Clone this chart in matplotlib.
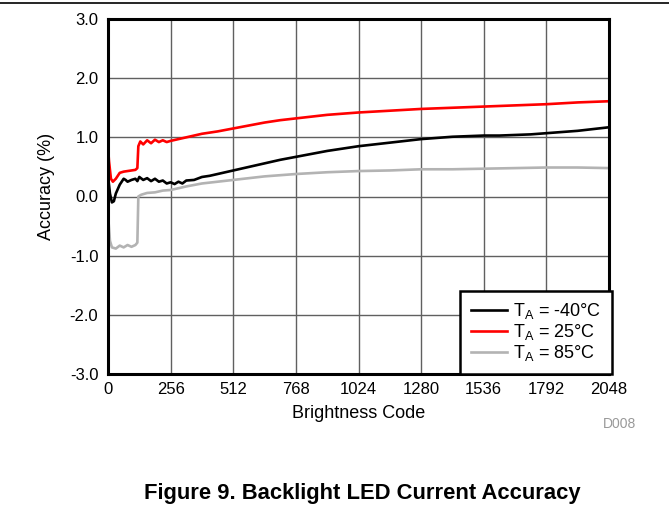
import matplotlib
matplotlib.use('Agg')
import matplotlib.pyplot as plt
from matplotlib.lines import Line2D

plt.rcParams['font.family'] = ['Liberation Sans', 'DejaVu Sans']

# Brightness code / accuracy (%)
codes_cold = [0, 8, 16, 24, 32, 48, 64, 72, 80, 96, 112, 120, 128, 144, 160, 176, 192,
              208, 224, 240, 256, 272, 288, 304, 320, 352, 384, 416, 448, 512, 576, 640,
              704, 768, 832, 896, 960, 1024, 1088, 1152, 1216, 1280, 1344, 1408, 1472,
              1536, 1600, 1664, 1728, 1792, 1856, 1920, 1984, 2048]
acc_cold = [0.35, 0.05, -0.1, -0.08, 0.05, 0.2, 0.3, 0.28, 0.25, 0.28, 0.3, 0.26, 0.33,
            0.28, 0.31, 0.26, 0.3, 0.25, 0.27, 0.22, 0.24, 0.21, 0.25, 0.22, 0.27, 0.28,
            0.33, 0.35, 0.38, 0.44, 0.5, 0.56, 0.62, 0.67, 0.72, 0.77, 0.81, 0.85, 0.88,
            0.91, 0.94, 0.97, 0.99, 1.01, 1.02, 1.03, 1.03, 1.04, 1.05, 1.07, 1.09, 1.11,
            1.14, 1.17]

codes_room = [0, 4, 12, 20, 32, 48, 64, 80, 96, 112, 120, 124, 132, 144, 160, 176, 192,
              208, 224, 240, 256, 288, 320, 352, 384, 448, 512, 576, 640, 704, 768, 832,
              896, 960, 1024, 1152, 1280, 1408, 1536, 1664, 1792, 1920, 2048]
acc_room = [0.85, 0.6, 0.3, 0.25, 0.3, 0.4, 0.42, 0.43, 0.44, 0.45, 0.48, 0.85, 0.93,
            0.88, 0.95, 0.9, 0.96, 0.92, 0.95, 0.92, 0.94, 0.97, 1.0, 1.03, 1.06, 1.1,
            1.15, 1.2, 1.25, 1.29, 1.32, 1.35, 1.38, 1.4, 1.42, 1.45, 1.48, 1.5, 1.52,
            1.54, 1.56, 1.59, 1.61]

codes_hot = [0, 8, 16, 32, 48, 64, 80, 96, 112, 120, 124, 136, 160, 192, 224, 256, 320,
             384, 448, 512, 576, 640, 704, 768, 896, 1024, 1152, 1280, 1408, 1536, 1664,
             1792, 1920, 2048]
acc_hot = [-0.3, -0.75, -0.86, -0.88, -0.83, -0.86, -0.82, -0.85, -0.82, -0.78, 0.0,
           0.03, 0.06, 0.07, 0.1, 0.11, 0.17, 0.22, 0.25, 0.28, 0.31, 0.34, 0.36, 0.38,
           0.41, 0.43, 0.44, 0.46, 0.46, 0.47, 0.48, 0.49, 0.49, 0.48]

x_ticks = [0, 256, 512, 768, 1024, 1280, 1536, 1792, 2048]
y_ticks = [-3.0, -2.0, -1.0, 0.0, 1.0, 2.0, 3.0]
labels = ['T$_\\mathregular{A}$ = -40°C', 'T$_\\mathregular{A}$ = 25°C',
          'T$_\\mathregular{A}$ = 85°C']

fig = plt.figure(figsize=(6.69, 5.14), dpi=100)
ax = fig.add_axes([108 / 669, 1 - 374 / 514, 501 / 669, 355 / 514])

ax.plot(codes_cold, acc_cold, color='black', lw=1.9, label=labels[0])
ax.plot(codes_room, acc_room, color='#ff0000', lw=1.9, label=labels[1])
ax.plot(codes_hot, acc_hot, color='#b3b3b3', lw=1.9, label=labels[2])

ax.set_xlim(0, 2048)
ax.set_ylim(-3, 3)
ax.set_xticks(x_ticks)
ax.set_yticks(y_ticks)
ax.set_yticklabels(['%.1f' % v for v in y_ticks])
ax.tick_params(length=0, labelsize=12)
ax.tick_params(axis='y', pad=7)
ax.tick_params(axis='x', pad=6)
ax.grid(True, color='#606060', lw=1.0)
for s in ax.spines.values():
    s.set_linewidth(2.2)
    s.set_color('black')
ax.set_xlabel('Brightness Code', fontsize=13)
ax.set_ylabel('Accuracy (%)', fontsize=13)
ax.xaxis.set_label_coords(0.5, -0.11)
ax.xaxis.label.set_va('center')
ax.yaxis.set_label_coords(-0.122, 0.528)
ax.yaxis.label.set_va('center')

leg = ax.legend(loc='lower right', bbox_to_anchor=(1.005, 0.0), fontsize=13, frameon=True,
                fancybox=False, borderaxespad=0.0, handlelength=2.0, labelspacing=0.05,
                borderpad=0.6, handletextpad=0.3, framealpha=1)
leg.get_frame().set_edgecolor('black')
leg.get_frame().set_linewidth(1.8)

fig.text(620 / 669, 1 - 424 / 514, 'D008', fontsize=10, color='#999999', ha='center', va='center')
fig.text(362 / 669, 1 - 494 / 514, 'Figure 9. Backlight LED Current Accuracy',
         fontsize=15.8, fontweight='bold', ha='center', va='center')
fig.add_artist(Line2D([0, 1], [1 - 3 / 514, 1 - 3 / 514], color='black', lw=1.2))

fig.savefig('out.png', dpi=100)
